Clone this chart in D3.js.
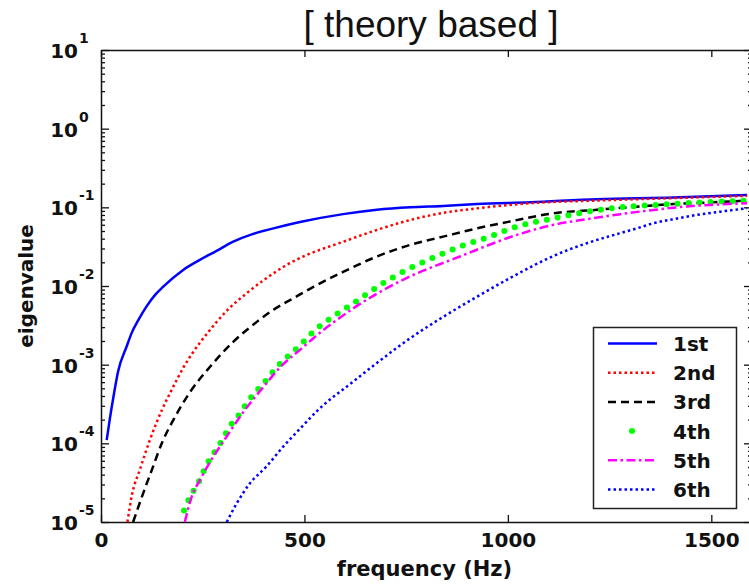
<!DOCTYPE html>
<html lang="en">
<head>
    <meta charset="UTF-8">
    <title>theory based</title>
    <style>
        body {
            margin: 0;
            background: white;
        }
        svg text {
            font-family: 'DejaVu Sans', sans-serif;
            font-weight: bold;
            fill: #111;
        }
        .title {
            font-family: 'Liberation Sans', Arial, sans-serif;
            font-weight: normal;
        }
        .domain, .tick line {
            stroke: #111;
        }
    </style>
</head>
<body>
    <svg id="chart" width="749" height="584"></svg>

    <script src="https://d3js.org/d3.v7.min.js"></script>
    <script>
        // data
        const freq1 = [14, 22, 32, 42, 63, 75, 92, 112, 133, 153, 202, 243, 284, 325, 374, 424, 489, 595, 678, 760, 841, 924, 1055, 1219, 1406, 1588];
        const eig1 = [1.1e-4, 2.09e-4, 4.3e-4, 8.2e-4, 1.7e-3, 2.5e-3, 3.7e-3, 5.5e-3, 7.7e-3, 9.8e-3, 0.016, 0.0215, 0.028, 0.0366, 0.046, 0.054, 0.065, 0.082, 0.093, 0.100, 0.104, 0.110, 0.116, 0.127, 0.133, 0.144];

        const freq2 = [65, 76, 96, 120, 150, 175, 202, 227, 260, 309, 358, 407, 456, 506, 596, 678, 760, 841, 924, 1055, 1219, 1407, 1588];
        const eig2 = [1e-5, 2.2e-5, 4.7e-5, 1.1e-4, 2.67e-4, 4.93e-4, 9.1e-4, 1.46e-3, 2.46e-3, 4.83e-3, 8.1e-3, 0.0126, 0.0185, 0.0248, 0.0366, 0.0516, 0.069, 0.085, 0.097, 0.113, 0.122, 0.131, 0.140];

        const freq3 = [79, 102, 125, 151, 178, 219, 268, 325, 383, 424, 473, 522, 596, 678, 760, 841, 924, 1005, 1112, 1219, 1317, 1407, 1489, 1588];
        const eig3 = [1e-5, 2.2e-5, 4.6e-5, 1.05e-4, 1.99e-4, 4.5e-4, 9.4e-4, 1.95e-3, 3.5e-3, 5.0e-3, 7.0e-3, 9.75e-3, 0.0152, 0.0237, 0.0333, 0.0424, 0.054, 0.066, 0.084, 0.093, 0.102, 0.110, 0.115, 0.122];

        const freq4 = [204, 219, 238, 254, 268, 286, 302, 315, 334, 350, 365, 381, 399, 414, 429, 444, 459, 492, 522, 571, 620, 686, 751, 817, 882, 956, 1022, 1112, 1194, 1276, 1358, 1440, 1522, 1588];
        const eig4 = [1.4e-5, 2.1e-5, 3.05e-5, 4.6e-5, 6.4e-5, 8.7e-5, 1.2e-4, 1.6e-4, 2.1e-4, 2.8e-4, 3.6e-4, 4.6e-4, 5.7e-4, 7.2e-4, 8.9e-4, 1.08e-3, 1.27e-3, 1.82e-3, 2.64e-3, 4.1e-3, 6.0e-3, 0.0103, 0.016, 0.023, 0.0317, 0.0425, 0.057, 0.0722, 0.0875, 0.100, 0.107, 0.113, 0.118, 0.122];

        const freq5 = [206, 223, 243, 268, 302, 350, 399, 444, 492, 522, 620, 751, 882, 1022, 1112, 1194, 1276, 1358, 1440, 1522, 1588];
        const eig5 = [1e-5, 2.1e-5, 3.4e-5, 5.8e-5, 1.08e-4, 2.5e-4, 5.2e-4, 9.7e-4, 1.59e-3, 2.17e-3, 5.2e-3, 0.0126, 0.0237, 0.0446, 0.060, 0.0706, 0.0817, 0.0927, 0.1026, 0.109, 0.113];

        const freq6 = [309, 334, 366, 407, 448, 489, 534, 620, 678, 760, 841, 924, 1005, 1112, 1194, 1276, 1317, 1358, 1407, 1464, 1522, 1588];
        const eig6 = [1e-5, 1.74e-5, 3.1e-5, 5.1e-5, 9.1e-5, 1.53e-4, 2.67e-4, 6.1e-4, 1.05e-3, 2.17e-3, 4.05e-3, 7.3e-3, 0.0126, 0.0241, 0.035, 0.0469, 0.054, 0.0628, 0.0706, 0.080, 0.088, 0.0975];

        const seriesNames = ['1st', '2nd', '3rd', '4th', '5th', '6th'];
        const xTicks = [0, 500, 1000, 1500];
        const yPowers = [-5, -4, -3, -2, -1, 0, 1];

        const series = [
            {name: seriesNames[0], f: freq1, v: eig1, color: '#0000ff', dash: null, width: 2.5},
            {name: seriesNames[1], f: freq2, v: eig2, color: '#ff0000', dash: '2.5,3', width: 2.5},
            {name: seriesNames[2], f: freq3, v: eig3, color: '#000000', dash: '8,5', width: 2.5},
            {name: seriesNames[3], f: freq4, v: eig4, color: '#00ff00', dash: '0,11', width: 6, dots: true},
            {name: seriesNames[4], f: freq5, v: eig5, color: '#ff00ff', dash: '9,3.5,2.5,3.5', width: 2.5},
            {name: seriesNames[5], f: freq6, v: eig6, color: '#0000ff', dash: '2.5,3', width: 2.5}
        ];

        const plotLeft = 101, plotRight = 752, plotTop = 50, plotBottom = 522;
        const svg = d3.select('#chart');

        const x = d3.scaleLinear().domain([0, 1600]).range([plotLeft, plotRight]);
        const y = d3.scaleLog().domain([1e-5, 10]).range([plotBottom, plotTop]);

        svg.append('defs').append('clipPath').attr('id', 'plotClip')
            .append('rect')
            .attr('x', plotLeft).attr('y', plotTop)
            .attr('width', plotRight - plotLeft).attr('height', plotBottom - plotTop);

        // minor log ticks (2..9 per decade)
        const majors = yPowers.map(p => Math.pow(10, p));
        const minors = y.ticks().filter(t => !majors.some(m => Math.abs(t / m - 1) < 1e-6));

        function styleAxis(g) {
            g.selectAll('.domain').attr('stroke-width', 1.5);
            g.selectAll('.tick line').attr('stroke-width', 1.3);
        }

        svg.append('g').attr('transform', `translate(0,${plotBottom})`)
            .call(d3.axisBottom(x).tickValues(xTicks).tickFormat(d3.format('d'))
                .tickSize(-7).tickSizeOuter(0).tickPadding(11))
            .call(styleAxis)
            .call(g => g.selectAll('text').attr('font-size', 20).attr('font-family', 'DejaVu Sans').attr('font-weight', 'bold'));

        svg.append('g').attr('transform', `translate(0,${plotTop})`)
            .call(d3.axisTop(x).tickValues(xTicks).tickSize(-7).tickSizeOuter(0).tickFormat(''))
            .call(styleAxis);

        svg.append('g').attr('transform', `translate(${plotLeft},0)`)
            .call(d3.axisLeft(y).tickValues(majors).tickSize(-8).tickSizeOuter(0).tickFormat(''))
            .call(styleAxis);
        svg.append('g').attr('transform', `translate(${plotLeft},0)`)
            .call(d3.axisLeft(y).tickValues(minors).tickSize(-4).tickSizeOuter(0).tickFormat(''))
            .call(styleAxis)
            .call(g => g.select('.domain').remove());

        svg.append('g').attr('transform', `translate(${plotRight},0)`)
            .call(d3.axisRight(y).tickValues(majors).tickSize(-8).tickSizeOuter(0).tickFormat(''))
            .call(styleAxis);
        svg.append('g').attr('transform', `translate(${plotRight},0)`)
            .call(d3.axisRight(y).tickValues(minors).tickSize(-4).tickSizeOuter(0).tickFormat(''))
            .call(styleAxis)
            .call(g => g.select('.domain').remove());

        // y tick labels 10^p
        const yLab = svg.append('g');
        yPowers.forEach(p => {
            const yy = y(Math.pow(10, p));
            yLab.append('text')
                .attr('x', 78).attr('y', yy + 8)
                .attr('text-anchor', 'end')
                .attr('font-size', 20)
                .text('10');
            yLab.append('text')
                .attr('x', 79).attr('y', yy - 7)
                .attr('font-size', 14)
                .attr('font-weight', 'normal')
                .text(p);
        });

        // curves
        const line = d3.line()
            .x(d => x(d[0]))
            .y(d => y(d[1]))
            .curve(d3.curveMonotoneX);

        const plot = svg.append('g').attr('clip-path', 'url(#plotClip)');
        series.forEach(s => {
            plot.append('path')
                .datum(s.f.map((f, i) => [f, s.v[i]]))
                .attr('fill', 'none')
                .attr('stroke', s.color)
                .attr('stroke-width', s.width)
                .attr('stroke-dasharray', s.dash)
                .attr('stroke-linecap', s.dots ? 'round' : 'butt')
                .attr('d', line);
        });

        // title and axis labels
        svg.append('text')
            .attr('class', 'title')
            .attr('x', 431).attr('y', 37)
            .attr('text-anchor', 'middle')
            .attr('font-size', 37)
            .text('[ theory based ]');

        svg.append('text')
            .attr('x', (plotLeft + plotRight) / 2 - 2).attr('y', 576)
            .attr('text-anchor', 'middle')
            .attr('font-size', 21)
            .text('frequency (Hz)');

        svg.append('text')
            .attr('transform', `translate(33,${(plotTop + plotBottom) / 2}) rotate(-90)`)
            .attr('text-anchor', 'middle')
            .attr('font-size', 20)
            .text('eigenvalue');

        // legend
        const lg = svg.append('g');
        lg.append('rect')
            .attr('x', 593.5).attr('y', 327.5)
            .attr('width', 143).attr('height', 181)
            .attr('fill', 'white')
            .attr('stroke', '#222')
            .attr('stroke-width', 1.5);

        series.forEach((s, i) => {
            const ly = 343.5 + i * 29.2;
            if (s.dots) {
                lg.append('circle')
                    .attr('cx', 632).attr('cy', ly)
                    .attr('r', 3)
                    .attr('fill', s.color);
            } else {
                lg.append('line')
                    .attr('x1', 608).attr('x2', 657)
                    .attr('y1', ly).attr('y2', ly)
                    .attr('stroke', s.color)
                    .attr('stroke-width', s.width)
                    .attr('stroke-dasharray', s.dash);
            }
            lg.append('text')
                .attr('x', 673).attr('y', ly + 7.5)
                .attr('font-size', 20)
                .text(s.name);
        });
    </script>
</body>
</html>
